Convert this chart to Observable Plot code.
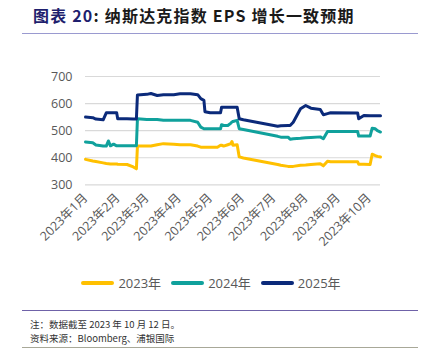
<!DOCTYPE html>
<html><head><meta charset="utf-8">
<script src="https://cdn.jsdelivr.net/npm/d3@7"></script>
<script src="https://cdn.jsdelivr.net/npm/@observablehq/plot@0.6"></script>
<style>
html,body{margin:0;padding:0;background:#fff;}
#wrap{position:relative;width:422px;height:351px;overflow:hidden;font-family:"Noto Sans CJK SC","Noto Sans",sans-serif;}
#title{position:absolute;left:33px;top:3px;font-size:16px;font-weight:bold;color:#1a1a1a;letter-spacing:1.2px;white-space:nowrap;}
#title .num{color:#1f1f6e;}
#tline{position:absolute;left:22px;top:33px;width:396px;height:0;border-top:1.5px solid #9a9ad0;}
#chart{position:absolute;left:0;top:40px;}
#legend{position:absolute;left:0;top:273px;width:422px;display:flex;justify-content:center;gap:0;font-family:"Open Sans","Noto Sans CJK SC",sans-serif;font-size:13px;color:#595959;}
.li{display:flex;align-items:center;margin:0 5px;}
.sw{display:inline-block;width:33px;height:4px;border-radius:2px;margin-right:4px;}
#fline{position:absolute;left:22px;top:310px;width:396px;border-top:1.5px solid #6f62a8;}
#note{position:absolute;left:30px;top:317px;font-size:9.5px;color:#333;white-space:nowrap;}
#src{position:absolute;left:30px;top:331px;font-size:9.5px;color:#333;white-space:nowrap;}
#bline{position:absolute;left:22px;top:347px;width:396px;border-top:1px solid #a8a898;}
</style></head>
<body><div id="wrap">
<div id="title"><span class="num">图表 20</span>: 纳斯达克指数 EPS 增长一致预期</div>
<div id="tline"></div>
<div id="chart"></div>
<div id="legend"></div>
<div id="fline"></div>
<div id="note">注：数据截至 2023 年 10 月 12 日。</div>
<div id="src">资料来源：Bloomberg、浦银国际</div>
<div id="bline"></div>
</div>
<script>
const dates = ["2023-01-01","2023-01-08","2023-01-11","2023-01-18","2023-01-21","2023-01-23","2023-01-25","2023-01-28","2023-01-31","2023-02-01","2023-02-10","2023-02-16","2023-02-19","2023-02-20","2023-03-01","2023-03-05","2023-03-11","2023-03-17","2023-03-27","2023-04-02","2023-04-12","2023-04-19","2023-04-22","2023-04-25","2023-04-26","2023-05-01","2023-05-08","2023-05-11","2023-05-12","2023-05-14","2023-05-18","2023-05-21","2023-05-22","2023-05-23","2023-05-27","2023-05-29","2023-06-02","2023-07-05","2023-07-08","2023-07-15","2023-07-17","2023-07-20","2023-07-27","2023-08-01","2023-08-06","2023-08-15","2023-08-18","2023-08-22","2023-08-25","2023-09-20","2023-09-21","2023-09-26","2023-10-02","2023-10-04","2023-10-07","2023-10-09","2023-10-12"];
const eps2023 = [394,388,386,381,379,378,377,377,377,376,375,366,359,443,443,443,448,452,450,448,448,443,439,439,439,439,439,446,446,443,448,452,460,446,448,403,399,375,372,368,368,368,372,373,375,378,370,387,385,385,376,376,375,413,408,405,403];
const eps2024 = [458,455,447,443,443,462,444,450,444,444,444,444,444,544,541,541,541,538,538,538,538,531,513,507,507,507,507,507,522,519,519,528,532,534,538,507,504,479,476,476,468,470,472,474,475,477,470,497,497,497,480,480,480,509,507,500,495];
const eps2025 = [550,548,543,540,566,566,566,566,566,544,544,543,543,632,634,637,630,633,633,636,636,633,618,612,570,566,566,566,586,586,586,586,586,586,586,544,540,516,518,519,519,531,581,593,583,578,559,563,566,565,544,556,555,555,555,555,555];
const seriesNames = ["2023年","2024年","2025年"];
const seriesColors = ["#ffc000","#10a19c","#0b2a7a"];
const monthTicks = ["2023-01-01","2023-02-01","2023-03-01","2023-04-01","2023-05-01","2023-06-01","2023-07-01","2023-08-01","2023-09-01","2023-10-01"];
const monthLabels = ["2023年1月","2023年2月","2023年3月","2023年4月","2023年5月","2023年6月","2023年7月","2023年8月","2023年9月","2023年10月"];
const yTicks = [300,400,500,600,700];

const parse = d3.utcParse("%Y-%m-%d");
const allSeries = [eps2023, eps2024, eps2025];
const data = allSeries.flatMap((vals, i) => vals.map((v, j) => ({date: parse(dates[j]), value: v, series: seriesNames[i]})));
const tickDates = monthTicks.map(parse);
const labelMap = new Map(tickDates.map((d, i) => [+d, monthLabels[i]]));

const chart = Plot.plot({
  width: 422,
  height: 230,
  marginLeft: 85,
  marginRight: 42,
  marginTop: 36,
  marginBottom: 85.7,
  style: {fontFamily: "'Open Sans','Noto Sans CJK SC',sans-serif", fontSize: "12px", color: "#595959", background: "transparent"},
  x: {type: "utc", domain: [parse("2023-01-01"), parse("2023-10-12")]},
  y: {domain: [300, 700]},
  color: {domain: seriesNames, range: seriesColors},
  marks: [
    Plot.gridY(yTicks, {stroke: "#d9d9d9", strokeOpacity: 1, strokeWidth: 1.2}),
    Plot.axisY(yTicks, {tickSize: 0, tickPadding: 13, label: null, fontSize: 12.5}),
    Plot.axisX(tickDates, {tickSize: 0, tickPadding: 11, tickRotate: -45, label: null, fontSize: 12.5, tickFormat: d => labelMap.get(+d)}),
    Plot.line(data, {x: "date", y: "value", z: "series", stroke: "series", strokeWidth: 3, strokeLinejoin: "round", strokeLinecap: "round"})
  ]
});
document.getElementById("chart").appendChild(chart);

const legend = document.getElementById("legend");
seriesNames.forEach((n, i) => {
  const item = document.createElement("div");
  item.className = "li";
  const sw = document.createElement("span");
  sw.className = "sw";
  sw.style.background = seriesColors[i];
  const t = document.createElement("span");
  t.textContent = n;
  item.appendChild(sw); item.appendChild(t);
  legend.appendChild(item);
});
</script>
</body></html>
